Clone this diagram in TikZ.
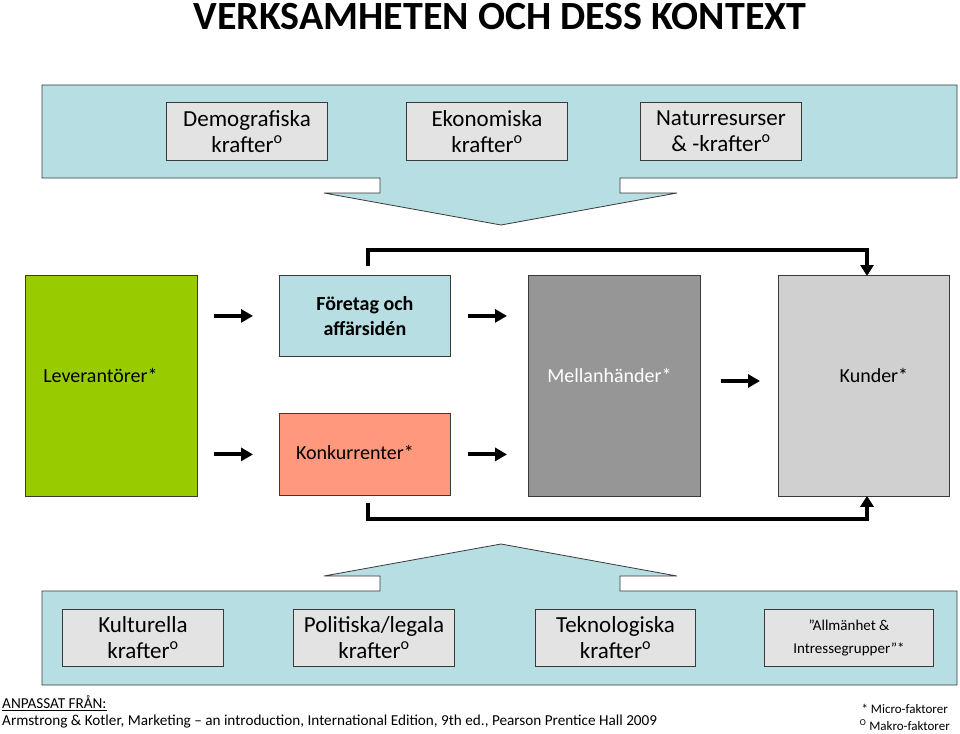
\documentclass[tikz,border=0pt]{standalone}
\usepackage{fontspec}
\setmainfont{Carlito}
\usetikzlibrary{arrows.meta,positioning}
\definecolor{bandblue}{HTML}{B7DEE3}
\definecolor{boxgray}{HTML}{E3E3E3}
\definecolor{levgreen}{HTML}{99CC00}
\definecolor{konkred}{HTML}{FF987C}
\definecolor{mellgray}{HTML}{969696}
\definecolor{kundgray}{HTML}{D0D0D0}
\definecolor{edgegray}{HTML}{3A3A3A}
\tikzset{
  x=1pt, y=-1pt,
  band/.style={fill=bandblue, draw=edgegray, line width=0.8pt},
  forcebox/.style={fill=boxgray, draw=edgegray, line width=1pt, align=center, inner sep=0pt, anchor=north west},
  bigbox/.style={draw=edgegray, line width=0.8pt, align=center, inner sep=0pt, anchor=north west},
  boxlabel/.style={inner sep=0pt, font=\fontsize{20}{24}\selectfont},
  flowarrow/.style={line width=4pt, -{Triangle[length=12pt,width=13pt]}},
  fbline/.style={line width=4pt, -{Triangle[length=11pt,width=13pt]}},
}
\newcommand{\krf}{krafter\textsuperscript{o}}
\begin{document}
\begin{tikzpicture}
\useasboundingbox (0,0) rectangle (960,733);
\fill[white] (0,0) rectangle (960,733);
% title
\node[font=\fontsize{40}{44}\selectfont\bfseries] (title) at (500,17) {VERKSAMHETEN OCH DESS KONTEXT};
% top band with arrow
\draw[band] (42,85) -- (957,85) -- (957,178) -- (620,178) -- (620,193) -- (677,193) -- (501,225) -- (324,193) -- (380,193) -- (380,178) -- (42,178) -- cycle;
\node[forcebox, minimum width=161pt, minimum height=57pt, font=\fontsize{23}{26}\selectfont] (dem) at (166,102.5) {Demografiska\\\krf};
\node[forcebox, minimum width=161pt, minimum height=57pt, font=\fontsize{23}{26}\selectfont] (eko) at (406,102.5) {Ekonomiska\\\krf};
\node[forcebox, minimum width=161pt, minimum height=57pt, font=\fontsize{23}{26}\selectfont] (nat) at (640,102.5) {Naturresurser\\\& -\krf};
% middle boxes
\node[bigbox, fill=levgreen, minimum width=172pt, minimum height=221pt] (lev) at (25,275) {};
\node[bigbox, fill=bandblue, minimum width=171pt, minimum height=81pt, font=\fontsize{20}{25}\selectfont\bfseries] (ftg) at (279,275) {Företag och\\affärsidén};
\node[bigbox, fill=konkred, minimum width=171pt, minimum height=82pt] (konk) at (279,413) {};
\node[bigbox, fill=mellgray, minimum width=172pt, minimum height=221pt] (mell) at (528,275) {};
\node[bigbox, fill=kundgray, minimum width=171pt, minimum height=221pt] (kund) at (778,275) {};
\node[boxlabel] (levt) at ([xshift=-11pt,yshift=10pt]lev.center) {Leverantörer*};
\node[boxlabel] (konkt) at ([xshift=-10pt,yshift=2pt]konk.center) {Konkurrenter*};
\node[boxlabel, text=white] (mellt) at ([xshift=-5pt,yshift=10pt]mell.center) {Mellanhänder*};
\node[boxlabel] (kundt) at ([xshift=10pt,yshift=10pt]kund.center) {Kunder*};
% flow arrows
\draw[flowarrow] ([xshift=16pt]lev.east |- ftg.west) -- ([xshift=-26pt]ftg.west);
\draw[flowarrow] ([xshift=16pt]lev.east |- konk.west) -- ([xshift=-26pt]konk.west);
\draw[flowarrow] ([xshift=17pt]ftg.east) -- ([xshift=-21pt]ftg.east -| mell.west);
\draw[flowarrow] ([xshift=17pt]konk.east) -- ([xshift=-21pt]konk.east -| mell.west);
\draw[flowarrow] ([xshift=20pt]mell.east |- 0,381) -- ([xshift=-18pt]kund.west |- 0,381);
% feedback lines
\coordinate (fbtop) at (368,266);
\coordinate (fbbot) at (368,503);
\draw[fbline, line join=miter] (fbtop) -- (368,250) -- (867,250) -- ([yshift=-1pt]kund.north -| 867,0);
\draw[fbline, line join=miter] (fbbot) -- (368,519) -- (867,519) -- ([yshift=1pt]kund.south -| 867,0);
% bottom band with arrow
\draw[band] (42,591) -- (380,591) -- (380,576) -- (324,576) -- (501,544) -- (677,576) -- (620,576) -- (620,591) -- (957,591) -- (957,685) -- (42,685) -- cycle;
\node[forcebox, minimum width=161pt, minimum height=57pt, font=\fontsize{23}{26}\selectfont] (kul) at (62,609) {Kulturella\\\krf};
\node[forcebox, minimum width=161pt, minimum height=57pt, font=\fontsize{23}{26}\selectfont] (pol) at (293,609) {Politiska/legala\\\krf};
\node[forcebox, minimum width=160pt, minimum height=57pt, font=\fontsize{23}{26}\selectfont] (tek) at (535,609) {Teknologiska\\\krf};
\node[forcebox, minimum width=169pt, minimum height=57pt, font=\fontsize{15}{23}\selectfont] (allm) at (764,609) {”Allmänhet \&\\Intressegrupper”*};
% footer
\node[anchor=west, inner sep=0pt, font=\fontsize{15.2}{17}\selectfont] (anp) at (2,703) {\underline{ANPASSAT FRÅN:}};
\node[anchor=west, inner sep=0pt, font=\fontsize{15.2}{17}\selectfont] (ref) at (2,722) {Armstrong \& Kotler, Marketing – an introduction, International Edition, 9th ed., Pearson Prentice Hall 2009};
\node[anchor=east, inner sep=0pt, font=\fontsize{13}{15}\selectfont] (micro) at (948,709) {* Micro-faktorer};
\node[anchor=east, inner sep=0pt, font=\fontsize{13}{15}\selectfont] (makro) at (950,725) {\textsuperscript{O} Makro-faktorer};
\end{tikzpicture}
\end{document}
